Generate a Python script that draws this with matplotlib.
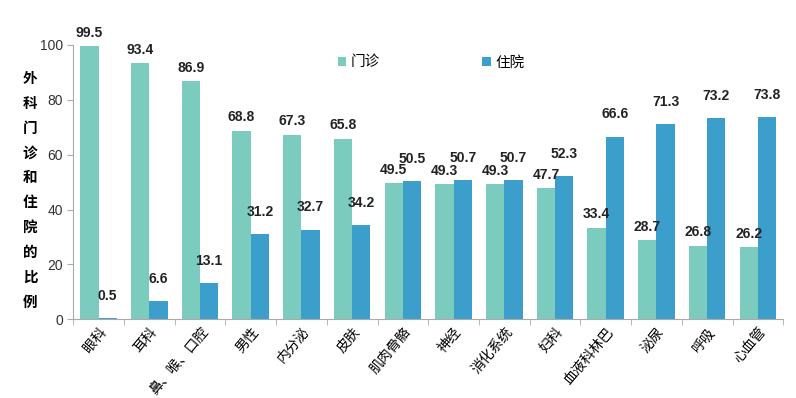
import numpy as np
import matplotlib.pyplot as plt

plt.rcParams['font.family'] = ['Noto Sans CJK SC', 'DejaVu Sans']

categories = ['眼科', '耳科', '鼻、喉、口腔', '男性', '内分泌', '皮肤', '肌肉骨骼',
              '神经', '消化系统', '妇科', '血液科林巴', '泌尿', '呼吸', '心血管']
outpatient = [99.5, 93.4, 86.9, 68.8, 67.3, 65.8, 49.5, 49.3, 49.3, 47.7, 33.4, 28.7, 26.8, 26.2]
inpatient = [0.5, 6.6, 13.1, 31.2, 32.7, 34.2, 50.5, 50.7, 50.7, 52.3, 66.6, 71.3, 73.2, 73.8]
yticks = [0, 20, 40, 60, 80, 100]

num_font = ['Liberation Sans Narrow', 'Liberation Sans', 'DejaVu Sans']

fig = plt.figure(figsize=(7.96, 3.98), dpi=100)
ax = fig.add_axes([0.092, 0.198, 0.892, 0.689])

x = np.arange(len(categories))
w = 0.36
b1 = ax.bar(x - w / 2, outpatient, w, color='#7bcbbf', label='门诊')
b2 = ax.bar(x + w / 2, inpatient, w, color='#3c9fcb', label='住院')

for bars, vals, off in ((b1, outpatient, 2.3), (b2, inpatient, 5.5)):
    for r, v in zip(bars, vals):
        ax.text(r.get_x() + r.get_width() / 2, v + off, f'{v:.1f}', ha='center', va='bottom',
                fontsize=10, fontweight='bold', color='#222222', family=num_font, clip_on=False)

ax.set_xlim(-0.5, len(categories) - 0.5)
ax.set_ylim(0, 100)
ax.set_yticks(yticks)
ax.set_yticklabels([str(t) for t in yticks], fontsize=10, color='#333333', family=num_font)
ax.set_xticks(x)
ax.set_xticklabels(categories, rotation=50, ha='right', rotation_mode='anchor', fontsize=10)
ax.set_xticks(np.arange(-0.5, len(categories), 1), minor=True)
ax.tick_params(axis='x', which='major', length=0, pad=4)
ax.tick_params(axis='x', which='minor', length=4, color='#aaaaaa')
ax.tick_params(axis='y', length=4, color='#aaaaaa')

for s in ('top', 'right'):
    ax.spines[s].set_visible(False)
ax.spines['left'].set_color('#aaaaaa')
ax.spines['bottom'].set_color('#aaaaaa')

fig.text(0.038, 0.523, '\n'.join('外科门诊和住院的比例'), ha='center', va='center',
         fontsize=10.5, fontweight='bold', linespacing=1.68)

ax.legend(loc='upper left', bbox_to_anchor=(0.354, 1.01), ncol=2, frameon=False,
          fontsize=10.5, handlelength=0.6, handleheight=0.6, columnspacing=7, handletextpad=0.3)

plt.savefig('out.png', dpi=100)
